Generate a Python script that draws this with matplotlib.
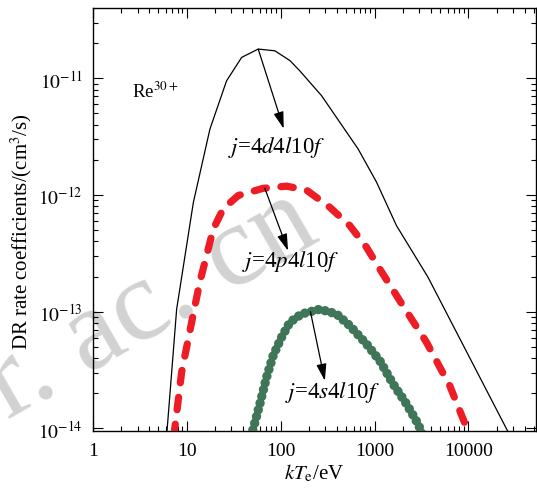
import numpy as np
import matplotlib
matplotlib.use("Agg")
import matplotlib.pyplot as plt
from matplotlib.ticker import FixedLocator, LogLocator, NullFormatter

plt.rcParams['font.family'] = ['Liberation Serif', 'DejaVu Serif']
plt.rcParams['mathtext.fontset'] = 'stix'
plt.rcParams['lines.scale_dashes'] = False

# ── data (kT_e in eV, rate coefficient in cm^3/s) ─────────────────────────────
T_4d = [5.94, 7.83, 11.8, 17.7, 26.6, 38.5, 57.8, 86.9, 125.6, 160, 273, 427,
        669, 1050, 1714, 3715, 34000]
R_4d = [6.3e-15, 1.05e-13, 8.65e-13, 3.67e-12, 9.5e-12, 1.51e-11, 1.78e-11,
        1.72e-11, 1.42e-11, 1.16e-11, 7.1e-12, 4.2e-12, 2.48e-12, 1.29e-12,
        5.46e-13, 1.97e-13, 6.3e-15]

T_4p = [7.3, 8.85, 11.3, 13.8, 16.3, 19.2, 24.5, 35.4, 65, 116, 189, 334, 546,
        822, 1138, 2014, 3573, 6324, 9523, 10500]
R_4p = [8.5e-15, 3.03e-14, 8.1e-14, 1.79e-13, 3.02e-13, 5.1e-13, 7.6e-13,
        9.9e-13, 1.14e-12, 1.19e-12, 1.10e-12, 7.85e-13, 5.46e-13, 3.56e-13,
        2.32e-13, 1.12e-13, 5.47e-14, 2.32e-14, 1.02e-14, 8e-15]

T_4s = [48, 51.1, 60.2, 70.9, 83.4, 102.5, 125.7, 167, 262, 394, 546, 822,
        1138, 1578, 2188, 2911, 3300]
R_4s = [8.5e-15, 9.9e-15, 1.62e-14, 2.74e-14, 4.2e-14, 6.04e-14, 8.11e-14,
        9.55e-14, 1.05e-13, 9.55e-14, 7.58e-14, 5.28e-14, 3.8e-14, 2.4e-14,
        1.62e-14, 1.09e-14, 8.5e-15]

x_ticks = [1, 10, 100, 1000, 10000]
x_labels = ['1', '10', '100', '1000', '10000']
y_ticks = [1e-14, 1e-13, 1e-12, 1e-11]
y_labels = [r'$10^{-14}$', r'$10^{-13}$', r'$10^{-12}$', r'$10^{-11}$']

# ── figure ────────────────────────────────────────────────────────────────────
fig = plt.figure(figsize=(5.37, 4.89), dpi=100)
ax = fig.add_axes([0.1726, 0.1172, 0.825, 0.8638])
ax.set_facecolor('none')

ax.plot(T_4d, R_4d, color='black', lw=0.9, zorder=3)
ax.plot(T_4p, R_4p, color='#ee1c25', lw=5.2, dashes=(9.0, 10.5),
        dash_capstyle='round', zorder=3)
ax.plot(T_4s, R_4s, color='#3f7658', lw=6.8, dashes=(0.01, 5.0),
        dash_capstyle='round', zorder=3)

ax.set_xscale('log')
ax.set_yscale('log')
ax.set_xlim(1, 5.2e4)
ax.set_ylim(9.55e-15, 3.98e-11)

ax.xaxis.set_major_locator(FixedLocator(x_ticks))
ax.set_xticklabels(x_labels)
ax.yaxis.set_major_locator(FixedLocator(y_ticks))
ax.set_yticklabels(y_labels)
ax.xaxis.set_minor_locator(LogLocator(base=10, subs=np.arange(2, 10), numticks=20))
ax.yaxis.set_minor_locator(LogLocator(base=10, subs=np.arange(2, 10), numticks=20))
ax.xaxis.set_minor_formatter(NullFormatter())
ax.yaxis.set_minor_formatter(NullFormatter())

ax.tick_params(which='both', direction='in', top=True, right=True, width=0.8,
               labelsize=14)
ax.tick_params(which='major', length=7)
ax.tick_params(which='minor', length=3.6)
ax.tick_params(axis='x', pad=8)
ax.tick_params(axis='y', pad=7)
for s in ax.spines.values():
    s.set_linewidth(1.0)

ax.set_xlabel(r'$kT_{\mathrm{e}}$/eV', fontsize=15, labelpad=2)
ax.set_ylabel(r'DR rate coefficients/(cm$^3$/s)', fontsize=15)
ax.yaxis.set_label_coords(-0.132, 0.473)

# ── labels and arrows ─────────────────────────────────────────────────────────
ax.text(2.62, 7.8e-12, r'Re$^{30+}$', fontsize=13.5, ha='left', va='center')

arrow = dict(arrowstyle='-|>,head_length=0.6,head_width=0.18', color='black',
             lw=0.9, mutation_scale=17, shrinkA=0, shrinkB=0)
ax.annotate('', xy=(108, 3.7e-12), xytext=(57.8, 1.78e-11), arrowprops=arrow)
ax.annotate('', xy=(120, 3.33e-13), xytext=(68, 1.14e-12), arrowprops=arrow)
ax.annotate('', xy=(296, 2.56e-14), xytext=(208, 1.0e-13), arrowprops=arrow)

ax.text(27.5, 2.58e-12, r'$j$=4$d$4$l$10$f$', fontsize=16.5, ha='left', va='center')
ax.text(38.7, 2.72e-13, r'$j$=4$p$4$l$10$f$', fontsize=16.5, ha='left', va='center')
ax.text(111, 2.05e-14, r'$j$=4$s$4$l$10$f$', fontsize=16.5, ha='left', va='center')

# faint watermark of the source page, behind the curves
fig.text(0.015, 0.141, 'r. ac. cn', rotation=30, rotation_mode='anchor',
         fontsize=84, color='#d2d2d2', ha='left', va='baseline', zorder=-1)

fig.savefig('out.png', dpi=100, facecolor='white')
